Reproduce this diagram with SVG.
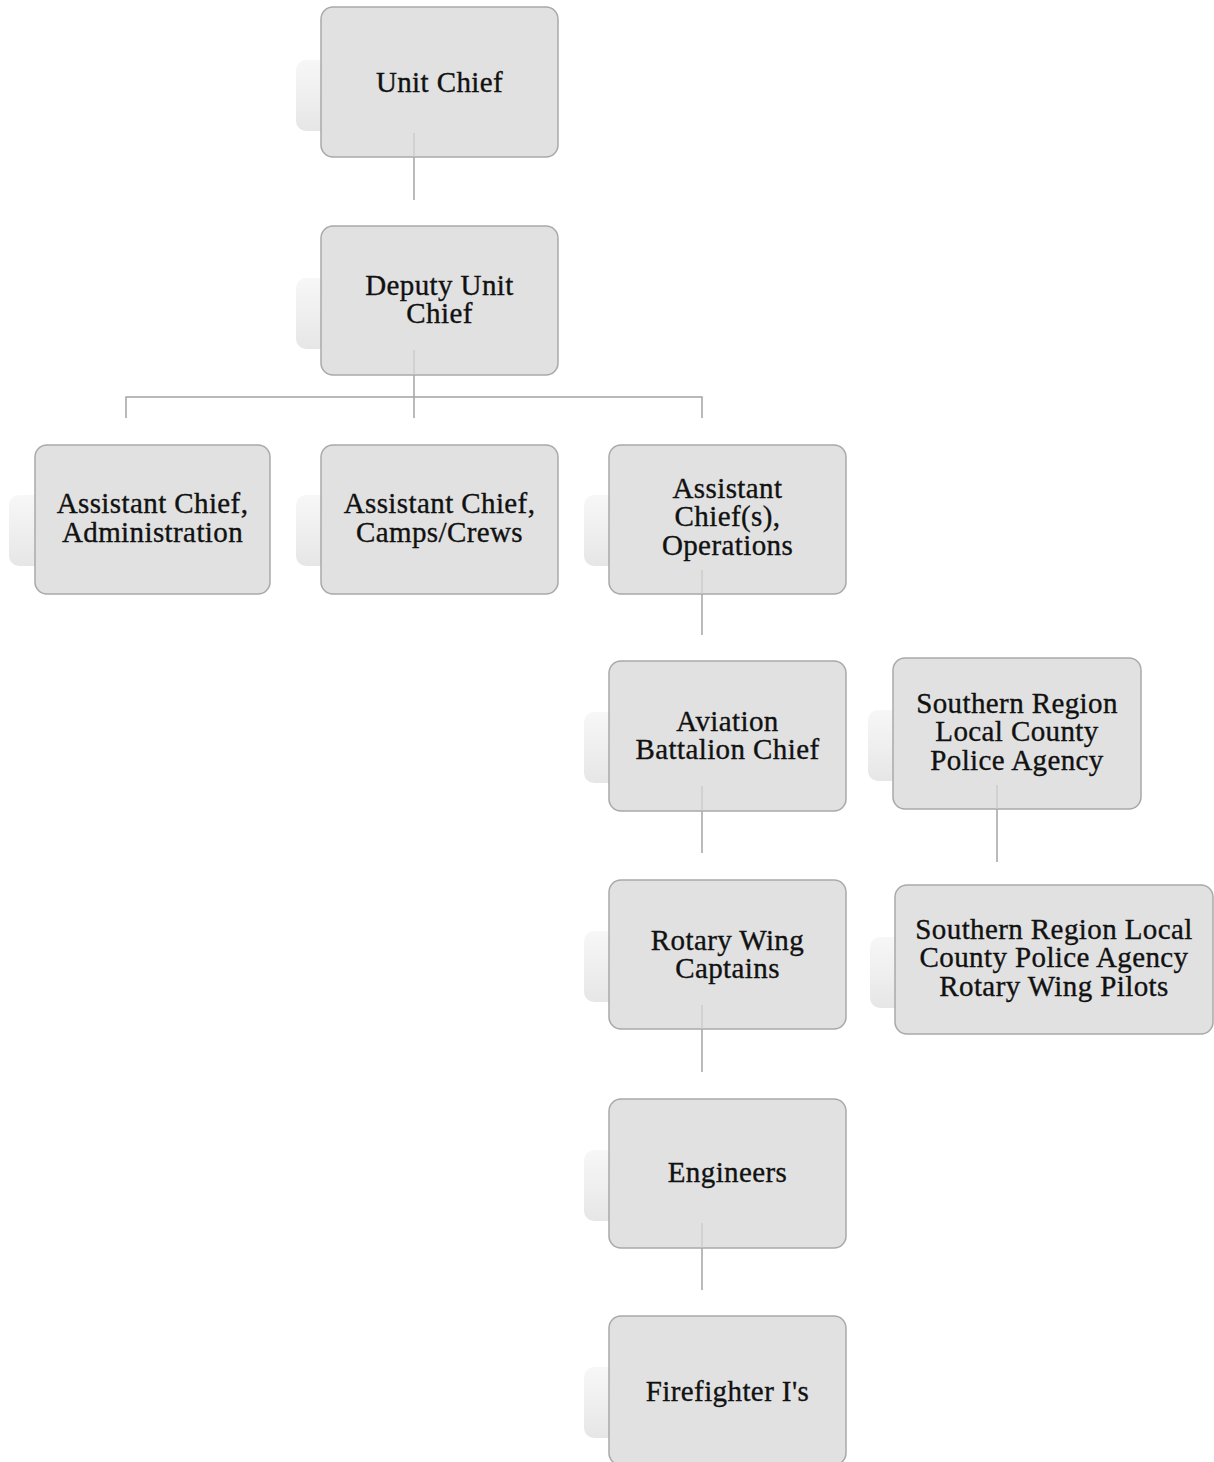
<svg xmlns="http://www.w3.org/2000/svg" width="1214" height="1462" viewBox="0 0 1214 1462">
<style>
.box{fill:#e1e1e1;stroke:#a9a9a9;stroke-width:1.5}
.tab{fill:url(#tabg)}
.t{font-family:"Liberation Serif","Times New Roman",serif;font-size:29px;letter-spacing:0.4px;fill:#111111;stroke:#111111;stroke-width:0.35;text-anchor:middle}
.c{stroke:#a3a3a3;stroke-width:1.5;fill:none}
.ci{stroke:#c6c6c6;stroke-width:1.2;fill:none}
</style>
<defs>
<linearGradient id="tabg" x1="0" y1="0" x2="0" y2="1">
<stop offset="0" stop-color="#f7f7f7"/>
<stop offset="0.5" stop-color="#efefef"/>
<stop offset="1" stop-color="#e6e6e6"/>
</linearGradient>
</defs>
<rect width="1214" height="1462" fill="#ffffff"/>
<g id="node-unit-chief">
<rect class="tab" x="296" y="60" width="40" height="71" rx="10"/>
<rect class="box" x="321" y="7" width="237" height="150" rx="12"/>
<text class="t" x="439.5" y="92">Unit Chief</text>
</g>
<g id="node-deputy">
<rect class="tab" x="296" y="278" width="40" height="71" rx="10"/>
<rect class="box" x="321" y="226" width="237" height="149" rx="12"/>
<text class="t" x="439.5" y="295">Deputy Unit</text>
<text class="t" x="439.5" y="323">Chief</text>
</g>
<g id="node-admin">
<rect class="tab" x="9" y="495" width="40" height="71" rx="10"/>
<rect class="box" x="35" y="445" width="235" height="149" rx="12"/>
<text class="t" x="152.5" y="513">Assistant Chief,</text>
<text class="t" x="152.5" y="542">Administration</text>
</g>
<g id="node-camps">
<rect class="tab" x="296" y="495" width="40" height="71" rx="10"/>
<rect class="box" x="321" y="445" width="237" height="149" rx="12"/>
<text class="t" x="439.5" y="513">Assistant Chief,</text>
<text class="t" x="439.5" y="542">Camps/Crews</text>
</g>
<g id="node-ops">
<rect class="tab" x="584" y="495" width="40" height="71" rx="10"/>
<rect class="box" x="609" y="445" width="237" height="149" rx="12"/>
<text class="t" x="727.5" y="498">Assistant</text>
<text class="t" x="727.5" y="526">Chief(s),</text>
<text class="t" x="727.5" y="555">Operations</text>
</g>
<g id="node-aviation">
<rect class="tab" x="584" y="712" width="40" height="71" rx="10"/>
<rect class="box" x="609" y="661" width="237" height="150" rx="12"/>
<text class="t" x="727.5" y="731">Aviation</text>
<text class="t" x="727.5" y="759">Battalion Chief</text>
</g>
<g id="node-sr-agency">
<rect class="tab" x="868" y="710" width="40" height="71" rx="10"/>
<rect class="box" x="893" y="658" width="248" height="151" rx="12"/>
<text class="t" x="1017" y="713">Southern Region</text>
<text class="t" x="1017" y="741">Local County</text>
<text class="t" x="1017" y="770">Police Agency</text>
</g>
<g id="node-rotary">
<rect class="tab" x="584" y="931" width="40" height="71" rx="10"/>
<rect class="box" x="609" y="880" width="237" height="149" rx="12"/>
<text class="t" x="727.5" y="950">Rotary Wing</text>
<text class="t" x="727.5" y="978">Captains</text>
</g>
<g id="node-sr-pilots">
<rect class="tab" x="870" y="937" width="40" height="71" rx="10"/>
<rect class="box" x="895" y="885" width="318" height="149" rx="12"/>
<text class="t" x="1054" y="939">Southern Region Local</text>
<text class="t" x="1054" y="967">County Police Agency</text>
<text class="t" x="1054" y="996">Rotary Wing Pilots</text>
</g>
<g id="node-engineers">
<rect class="tab" x="584" y="1150" width="40" height="71" rx="10"/>
<rect class="box" x="609" y="1099" width="237" height="149" rx="12"/>
<text class="t" x="727.5" y="1182">Engineers</text>
</g>
<g id="node-firefighters">
<rect class="tab" x="584" y="1367" width="40" height="71" rx="10"/>
<rect class="box" x="609" y="1316" width="237" height="149" rx="12"/>
<text class="t" x="727.5" y="1401">Firefighter I's</text>
</g>
<g id="connectors">
<line class="ci" x1="414" y1="133" x2="414" y2="157"/>
<line class="c" x1="414" y1="157" x2="414" y2="200"/>
<line class="ci" x1="414" y1="350" x2="414" y2="375"/>
<line class="c" x1="414" y1="375" x2="414" y2="418"/>
<polyline class="c" points="126,418 126,397 702,397 702,418"/>
<line class="ci" x1="702" y1="570" x2="702" y2="594"/>
<line class="c" x1="702" y1="594" x2="702" y2="635"/>
<line class="ci" x1="702" y1="786" x2="702" y2="811"/>
<line class="c" x1="702" y1="811" x2="702" y2="853"/>
<line class="ci" x1="997" y1="785" x2="997" y2="809"/>
<line class="c" x1="997" y1="809" x2="997" y2="862"/>
<line class="ci" x1="702" y1="1005" x2="702" y2="1029"/>
<line class="c" x1="702" y1="1029" x2="702" y2="1072"/>
<line class="ci" x1="702" y1="1223" x2="702" y2="1248"/>
<line class="c" x1="702" y1="1248" x2="702" y2="1290"/>
</g>
</svg>
